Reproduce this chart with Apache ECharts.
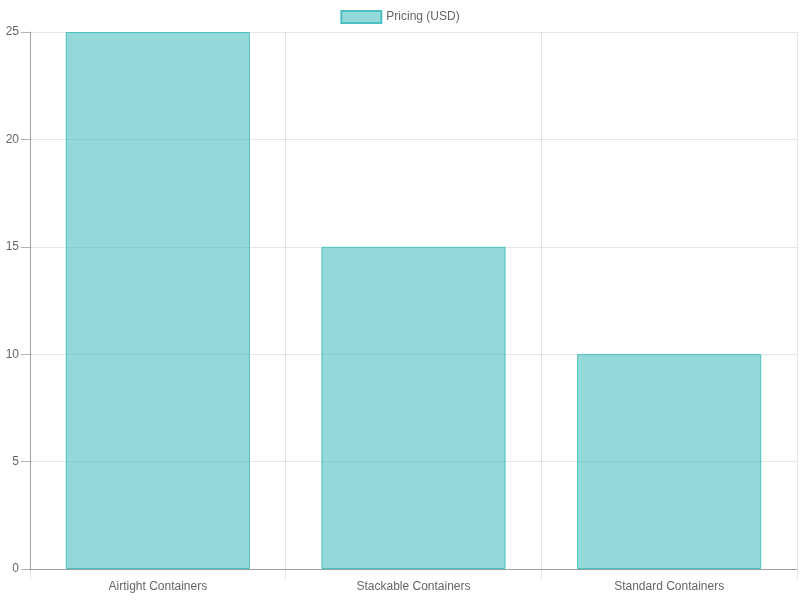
<!DOCTYPE html>
<html>
<head>
<meta charset="utf-8">
<script src="https://cdn.jsdelivr.net/npm/echarts@6/dist/echarts.min.js"></script>
<style>
  html, body { margin: 0; padding: 0; background: #fff; }
  #main { width: 800px; height: 600px; }
</style>
</head>
<body>
<div id="main"></div>
<script>
// data
var categories = ['Airtight Containers', 'Stackable Containers', 'Standard Containers'];
var pricing = [25, 15, 10];
var seriesName = 'Pricing (USD)';

var chart = echarts.init(document.getElementById('main'));
var axisColor = 'rgba(0,0,0,0.3)';
var gridColor = 'rgba(0,0,0,0.1)';

chart.setOption({
  animation: false,
  textStyle: { fontFamily: 'Liberation Sans, Arial, sans-serif' },
  legend: {
    top: 5,
    left: 'center',
    icon: 'rect',
    itemWidth: 40,
    itemHeight: 12,
    itemGap: 10,
    textStyle: { color: '#666', fontSize: 12 },
    data: [seriesName]
  },
  grid: { left: 30, right: 3, top: 32, bottom: 31, containLabel: false },
  xAxis: {
    type: 'category',
    data: categories,
    boundaryGap: true,
    axisLine: { show: true, lineStyle: { color: axisColor } },
    axisTick: { show: true, length: 10, interval: 0, lineStyle: { color: gridColor } },
    axisLabel: { color: '#666', fontSize: 12, margin: 12, interval: 0 },
    splitLine: { show: true, interval: 0, lineStyle: { color: gridColor } }
  },
  yAxis: {
    type: 'value',
    min: 0,
    max: 25,
    interval: 5,
    axisLine: { show: true, lineStyle: { color: axisColor } },
    axisTick: { show: true, length: 9, lineStyle: { color: axisColor } },
    axisLabel: { color: '#666', fontSize: 12, margin: 11 },
    splitLine: { show: true, lineStyle: { color: gridColor } }
  },
  series: [{
    name: seriesName,
    type: 'bar',
    data: pricing,
    barCategoryGap: '28%',
    itemStyle: {
      color: 'rgba(75,192,192,0.6)',
      borderColor: 'rgb(75,192,192)',
      borderWidth: 1
    }
  }]
});
</script>
</body>
</html>
